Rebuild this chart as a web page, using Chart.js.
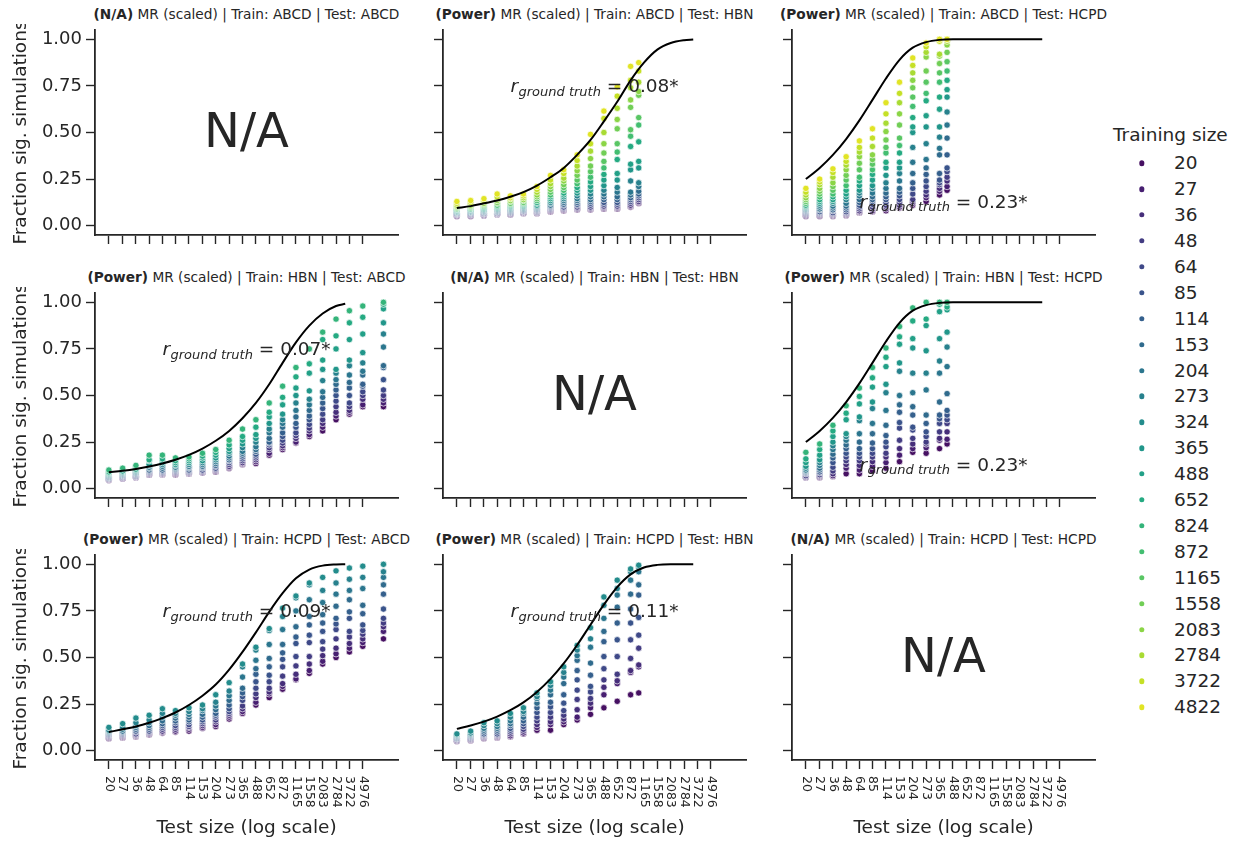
<!DOCTYPE html>
<html><head><meta charset="utf-8">
<script src="https://cdn.jsdelivr.net/npm/chart.js@4.4.1/dist/chart.umd.min.js"></script>
<style>
html,body{margin:0;padding:0;background:#fff}
body{width:1239px;height:843px;overflow:hidden;position:relative;font-family:"DejaVu Sans",sans-serif;color:#262626}
canvas{position:absolute}
.ttl{position:absolute;font-size:13.7px;white-space:nowrap;transform:translate(-50%,-50%);color:#262626;line-height:1}
.lg{position:absolute;font-size:18.5px;white-space:nowrap;transform:translateY(-50%);line-height:1}
.dot{position:absolute;width:5.4px;height:5.4px;border-radius:50%;transform:translate(-50%,-50%)}
</style></head>
<body>
<script>
// ---------------- data ----------------
const tickValues = [20,27,36,48,64,85,114,153,204,273,365,488,652,872,1165,1558,2083,2784,3722,4976];
const yTickValues = [0, 0.25, 0.5, 0.75, 1];
const legendSizes = [20,27,36,48,64,85,114,153,204,273,324,365,488,652,824,872,1165,1558,2083,2784,3722,4822];
const trainABCD = [20,27,36,48,64,85,114,153,204,273,365,488,652,872,1165,1558,2083,2784,3722,4822];
const trainHBN = [20,27,36,48,64,85,114,153,204,273,365,488,652,824];
const trainHCPD = [20,27,36,48,64,85,114,153,204,273,324];
const testABCD = [20,27,36,48,64,85,114,153,204,273,365,488,652,872,1165,1558,2083,2784,3722,4976,7800];
const testHBN = [20,27,36,48,64,85,114,153,204,273,365,488,652,872,1040];
const testHCPD = [20,27,36,48,64,85,114,153,204,273,365,430];

// power curves (x = test size, y = fraction)
const curveX = [20,27,36,48,64,85,114,153,204,273,365,488,652,872,1165,1558,2083,2784,3400];
const curveAbcdHbn  = [0.095,0.105,0.12,0.135,0.155,0.18,0.215,0.26,0.31,0.38,0.46,0.56,0.665,0.78,0.875,0.945,0.98,0.995,0.999];
const curveAbcdHcpd = [0.25,0.31,0.38,0.465,0.565,0.675,0.79,0.89,0.955,0.985,0.997,1,1,1,1,1,1,1,1];
const curveHbnAbcd  = [0.088,0.096,0.106,0.119,0.135,0.155,0.181,0.215,0.257,0.31,0.378,0.46,0.56,0.675,0.785,0.875,0.94,0.98,0.992];
const curveHbnHcpd  = [0.25,0.31,0.38,0.465,0.565,0.675,0.79,0.89,0.955,0.985,0.997,1,1,1,1,1,1,1,1];
const curveHcpdAbcd = [0.10,0.115,0.13,0.15,0.175,0.205,0.245,0.295,0.355,0.435,0.53,0.635,0.745,0.845,0.925,0.972,0.993,0.999,1];
const curveHcpdHbn  = [0.117,0.135,0.156,0.183,0.217,0.259,0.315,0.385,0.468,0.567,0.676,0.784,0.878,0.946,0.983,0.997,1,1,1];

// fraction significant: one row per test size, one value per training size (ascending)
const abcdToHbn = [
 [0.05,0.055,0.06,0.06,0.065,0.065,0.07,0.07,0.075,0.075,0.08,0.085,0.09,0.09,0.095,0.10,0.105,0.11,0.12,0.13],
 [0.05,0.055,0.06,0.06,0.065,0.07,0.07,0.075,0.075,0.08,0.085,0.09,0.09,0.095,0.10,0.105,0.11,0.12,0.125,0.135],
 [0.055,0.055,0.06,0.065,0.065,0.07,0.075,0.075,0.08,0.085,0.09,0.095,0.10,0.105,0.11,0.115,0.12,0.13,0.135,0.145],
 [0.06,0.06,0.065,0.065,0.07,0.075,0.075,0.08,0.085,0.09,0.095,0.10,0.105,0.11,0.12,0.125,0.135,0.145,0.155,0.17],
 [0.06,0.06,0.065,0.07,0.07,0.075,0.08,0.085,0.09,0.095,0.10,0.105,0.11,0.115,0.12,0.13,0.135,0.145,0.15,0.16],
 [0.065,0.07,0.07,0.075,0.08,0.08,0.085,0.09,0.095,0.10,0.105,0.11,0.115,0.12,0.125,0.135,0.14,0.15,0.16,0.17],
 [0.065,0.07,0.07,0.075,0.08,0.085,0.09,0.095,0.10,0.105,0.11,0.12,0.125,0.135,0.145,0.155,0.165,0.18,0.195,0.21],
 [0.075,0.08,0.085,0.09,0.095,0.10,0.105,0.11,0.12,0.125,0.135,0.145,0.155,0.165,0.18,0.195,0.21,0.225,0.245,0.27],
 [0.08,0.085,0.09,0.095,0.10,0.11,0.115,0.125,0.135,0.145,0.155,0.165,0.175,0.19,0.205,0.22,0.24,0.255,0.28,0.30],
 [0.085,0.09,0.095,0.10,0.11,0.115,0.125,0.135,0.145,0.16,0.175,0.19,0.205,0.225,0.245,0.27,0.295,0.32,0.35,0.38],
 [0.085,0.09,0.095,0.10,0.11,0.12,0.13,0.14,0.155,0.17,0.19,0.21,0.235,0.26,0.29,0.32,0.36,0.40,0.44,0.49],
 [0.09,0.095,0.10,0.105,0.115,0.125,0.14,0.155,0.17,0.19,0.215,0.245,0.275,0.31,0.345,0.39,0.44,0.50,0.575,0.615],
 [0.09,0.095,0.10,0.105,0.115,0.125,0.14,0.155,0.18,0.205,0.245,0.28,0.355,0.395,0.44,0.52,0.57,0.63,0.695,0.745],
 [0.10,0.105,0.11,0.12,0.13,0.14,0.15,0.165,0.18,0.24,0.30,0.33,0.425,0.48,0.515,0.635,0.675,0.74,0.78,0.855],
 [0.12,0.125,0.13,0.14,0.15,0.16,0.17,0.185,0.21,0.23,0.31,0.345,0.45,0.54,0.58,0.70,0.72,0.77,0.83,0.875]
];
const abcdToHcpd = [
 [0.05,0.055,0.06,0.065,0.07,0.075,0.08,0.085,0.09,0.095,0.10,0.105,0.11,0.12,0.13,0.14,0.15,0.165,0.18,0.20],
 [0.05,0.055,0.06,0.065,0.07,0.075,0.085,0.09,0.10,0.11,0.12,0.13,0.14,0.155,0.17,0.185,0.20,0.22,0.235,0.25],
 [0.05,0.055,0.06,0.065,0.07,0.08,0.085,0.095,0.105,0.12,0.13,0.14,0.155,0.17,0.19,0.21,0.23,0.26,0.285,0.305],
 [0.055,0.06,0.065,0.07,0.075,0.085,0.095,0.105,0.12,0.14,0.155,0.17,0.19,0.215,0.245,0.27,0.30,0.325,0.345,0.37],
 [0.07,0.075,0.08,0.09,0.10,0.11,0.125,0.14,0.16,0.175,0.19,0.215,0.24,0.26,0.30,0.335,0.37,0.395,0.42,0.455],
 [0.075,0.08,0.09,0.10,0.115,0.13,0.14,0.155,0.175,0.20,0.215,0.245,0.275,0.30,0.33,0.355,0.38,0.425,0.47,0.52],
 [0.08,0.09,0.10,0.11,0.125,0.14,0.155,0.175,0.20,0.23,0.27,0.31,0.34,0.39,0.42,0.46,0.505,0.55,0.60,0.66],
 [0.095,0.10,0.11,0.125,0.14,0.16,0.18,0.20,0.24,0.28,0.31,0.34,0.39,0.43,0.47,0.54,0.60,0.66,0.71,0.77],
 [0.11,0.12,0.13,0.14,0.17,0.20,0.23,0.28,0.34,0.42,0.50,0.53,0.58,0.64,0.69,0.74,0.78,0.82,0.86,0.90],
 [0.13,0.15,0.165,0.185,0.21,0.24,0.275,0.31,0.355,0.44,0.53,0.59,0.67,0.71,0.77,0.83,0.905,0.93,0.96,0.98],
 [0.165,0.185,0.20,0.22,0.23,0.245,0.28,0.38,0.415,0.475,0.53,0.625,0.69,0.77,0.82,0.87,0.91,0.92,0.99,1.0],
 [0.19,0.21,0.24,0.26,0.29,0.31,0.38,0.47,0.54,0.61,0.69,0.73,0.78,0.83,0.88,0.93,0.97,0.99,1.0,1.0]
];
const hbnToAbcd = [
 [0.045,0.05,0.05,0.055,0.055,0.06,0.06,0.065,0.07,0.075,0.08,0.085,0.09,0.10],
 [0.055,0.055,0.06,0.06,0.065,0.07,0.07,0.075,0.08,0.085,0.09,0.095,0.105,0.11],
 [0.06,0.06,0.065,0.065,0.07,0.075,0.08,0.085,0.09,0.095,0.10,0.105,0.115,0.125],
 [0.075,0.075,0.08,0.085,0.09,0.095,0.10,0.11,0.115,0.125,0.13,0.15,0.155,0.18],
 [0.075,0.08,0.08,0.085,0.09,0.095,0.10,0.11,0.12,0.13,0.14,0.15,0.16,0.18],
 [0.075,0.08,0.085,0.09,0.095,0.10,0.105,0.11,0.115,0.125,0.13,0.14,0.15,0.165],
 [0.08,0.08,0.085,0.09,0.095,0.10,0.11,0.115,0.12,0.13,0.14,0.15,0.16,0.17],
 [0.085,0.085,0.09,0.095,0.10,0.11,0.115,0.12,0.13,0.14,0.15,0.165,0.175,0.19],
 [0.09,0.095,0.10,0.105,0.11,0.12,0.125,0.135,0.145,0.155,0.165,0.18,0.195,0.21],
 [0.11,0.115,0.12,0.13,0.14,0.15,0.155,0.165,0.175,0.19,0.20,0.215,0.235,0.26],
 [0.13,0.135,0.14,0.15,0.16,0.17,0.18,0.19,0.20,0.22,0.24,0.26,0.28,0.32],
 [0.135,0.145,0.155,0.165,0.175,0.185,0.20,0.21,0.225,0.25,0.27,0.29,0.33,0.37],
 [0.18,0.19,0.21,0.22,0.235,0.245,0.25,0.27,0.30,0.32,0.35,0.385,0.41,0.46],
 [0.21,0.22,0.23,0.245,0.26,0.28,0.30,0.33,0.35,0.37,0.40,0.45,0.49,0.55],
 [0.245,0.25,0.27,0.285,0.30,0.33,0.35,0.385,0.42,0.46,0.50,0.54,0.60,0.65],
 [0.28,0.29,0.31,0.325,0.345,0.37,0.39,0.42,0.45,0.48,0.525,0.62,0.67,0.75],
 [0.31,0.33,0.35,0.37,0.40,0.43,0.46,0.49,0.52,0.58,0.64,0.69,0.80,0.84],
 [0.37,0.39,0.41,0.44,0.47,0.50,0.53,0.56,0.585,0.62,0.64,0.75,0.82,0.91],
 [0.40,0.41,0.42,0.44,0.46,0.50,0.54,0.57,0.61,0.66,0.69,0.80,0.89,0.955],
 [0.44,0.45,0.48,0.50,0.52,0.55,0.56,0.61,0.63,0.675,0.73,0.83,0.92,0.98],
 [0.44,0.46,0.48,0.50,0.53,0.585,0.65,0.66,0.76,0.83,0.89,0.965,0.99,1.0]
];
const hbnToHcpd = [
 [0.06,0.06,0.065,0.07,0.08,0.085,0.09,0.095,0.10,0.11,0.12,0.14,0.16,0.195],
 [0.06,0.065,0.07,0.075,0.085,0.09,0.10,0.11,0.125,0.14,0.155,0.18,0.21,0.24],
 [0.065,0.07,0.08,0.095,0.115,0.14,0.165,0.185,0.21,0.23,0.25,0.28,0.31,0.34],
 [0.08,0.11,0.13,0.15,0.17,0.19,0.215,0.235,0.26,0.28,0.295,0.37,0.405,0.445],
 [0.08,0.10,0.125,0.15,0.17,0.19,0.215,0.25,0.295,0.365,0.385,0.455,0.495,0.54],
 [0.095,0.12,0.145,0.17,0.19,0.215,0.245,0.295,0.35,0.43,0.465,0.545,0.595,0.65],
 [0.11,0.14,0.17,0.19,0.225,0.25,0.285,0.34,0.42,0.515,0.56,0.655,0.705,0.755],
 [0.145,0.18,0.215,0.26,0.325,0.355,0.41,0.45,0.50,0.63,0.675,0.775,0.815,0.87],
 [0.195,0.215,0.24,0.27,0.315,0.33,0.395,0.44,0.515,0.62,0.755,0.805,0.90,0.97],
 [0.19,0.22,0.24,0.25,0.28,0.305,0.35,0.395,0.53,0.62,0.74,0.875,0.91,1.0],
 [0.215,0.26,0.27,0.305,0.35,0.375,0.395,0.465,0.62,0.685,0.805,0.95,0.99,1.0],
 [0.24,0.265,0.305,0.35,0.37,0.395,0.42,0.51,0.655,0.76,0.84,0.96,0.975,1.0]
];
const hcpdToAbcd = [
 [0.065,0.07,0.075,0.08,0.085,0.09,0.095,0.10,0.105,0.11,0.125],
 [0.07,0.075,0.08,0.085,0.09,0.095,0.10,0.105,0.115,0.125,0.145],
 [0.075,0.08,0.085,0.09,0.10,0.105,0.115,0.125,0.135,0.15,0.175],
 [0.085,0.09,0.095,0.10,0.105,0.115,0.125,0.135,0.15,0.165,0.19],
 [0.095,0.10,0.105,0.115,0.125,0.135,0.145,0.16,0.18,0.20,0.225],
 [0.10,0.105,0.115,0.125,0.135,0.15,0.16,0.175,0.19,0.20,0.215],
 [0.105,0.115,0.125,0.13,0.14,0.155,0.165,0.18,0.195,0.21,0.23],
 [0.12,0.125,0.135,0.145,0.155,0.165,0.18,0.195,0.215,0.225,0.245],
 [0.13,0.14,0.155,0.165,0.18,0.19,0.20,0.22,0.24,0.26,0.30],
 [0.17,0.18,0.19,0.20,0.21,0.225,0.245,0.27,0.295,0.32,0.365],
 [0.20,0.21,0.225,0.24,0.27,0.29,0.31,0.335,0.395,0.45,0.465],
 [0.245,0.26,0.285,0.305,0.335,0.37,0.41,0.44,0.485,0.54,0.555],
 [0.285,0.305,0.315,0.335,0.37,0.405,0.45,0.495,0.57,0.645,0.655],
 [0.33,0.345,0.36,0.40,0.45,0.49,0.525,0.57,0.65,0.72,0.765],
 [0.38,0.385,0.41,0.455,0.505,0.575,0.61,0.665,0.75,0.82,0.83],
 [0.415,0.43,0.465,0.505,0.58,0.62,0.675,0.72,0.81,0.89,0.90],
 [0.465,0.48,0.51,0.545,0.585,0.64,0.685,0.73,0.795,0.86,0.93],
 [0.50,0.52,0.55,0.60,0.65,0.68,0.71,0.775,0.84,0.90,0.965],
 [0.53,0.55,0.575,0.61,0.64,0.71,0.745,0.81,0.86,0.92,0.98],
 [0.56,0.58,0.60,0.625,0.645,0.675,0.735,0.78,0.87,0.93,0.99],
 [0.60,0.64,0.665,0.685,0.71,0.76,0.84,0.89,0.93,0.96,1.0]
];
const hcpdToHbn = [
 [0.05,0.055,0.055,0.06,0.065,0.065,0.07,0.075,0.08,0.085,0.09],
 [0.055,0.06,0.06,0.065,0.07,0.075,0.08,0.085,0.09,0.095,0.105],
 [0.065,0.07,0.075,0.08,0.085,0.09,0.10,0.11,0.12,0.135,0.15],
 [0.07,0.075,0.08,0.085,0.09,0.10,0.11,0.12,0.13,0.145,0.16],
 [0.075,0.08,0.09,0.10,0.11,0.12,0.135,0.145,0.16,0.18,0.20],
 [0.09,0.095,0.105,0.115,0.13,0.145,0.16,0.18,0.20,0.21,0.23],
 [0.11,0.125,0.14,0.16,0.18,0.205,0.23,0.255,0.28,0.29,0.31],
 [0.11,0.14,0.155,0.18,0.205,0.235,0.26,0.30,0.325,0.35,0.37],
 [0.14,0.155,0.17,0.19,0.215,0.255,0.30,0.36,0.395,0.42,0.45],
 [0.165,0.18,0.22,0.275,0.325,0.38,0.43,0.485,0.51,0.54,0.565],
 [0.195,0.23,0.255,0.28,0.315,0.345,0.405,0.47,0.555,0.60,0.66],
 [0.23,0.30,0.34,0.38,0.44,0.505,0.585,0.64,0.71,0.78,0.825],
 [0.265,0.36,0.375,0.41,0.505,0.595,0.685,0.77,0.835,0.87,0.915],
 [0.30,0.42,0.43,0.495,0.595,0.685,0.76,0.84,0.915,0.96,0.975],
 [0.31,0.45,0.46,0.55,0.62,0.715,0.835,0.89,0.96,0.985,0.995]
];

const panels = [
 {row:0,col:0,tag:'(N/A)',train:'ABCD',test:'ABCD',na:true},
 {row:0,col:1,tag:'(Power)',train:'ABCD',test:'HBN',trainSizes:trainABCD,testSizes:testHBN,table:abcdToHbn,curve:curveAbcdHbn,r:'0.08*',rPos:0.304},
 {row:0,col:2,tag:'(Power)',train:'ABCD',test:'HCPD',trainSizes:trainABCD,testSizes:testHCPD,table:abcdToHcpd,curve:curveAbcdHcpd,r:'0.23*',rPos:0.866},
 {row:1,col:0,tag:'(Power)',train:'HBN',test:'ABCD',trainSizes:trainHBN,testSizes:testABCD,table:hbnToAbcd,curve:curveHbnAbcd,r:'0.07*',rPos:0.304},
 {row:1,col:1,tag:'(N/A)',train:'HBN',test:'HBN',na:true},
 {row:1,col:2,tag:'(Power)',train:'HBN',test:'HCPD',trainSizes:trainHBN,testSizes:testHCPD,table:hbnToHcpd,curve:curveHbnHcpd,r:'0.23*',rPos:0.866},
 {row:2,col:0,tag:'(Power)',train:'HCPD',test:'ABCD',trainSizes:trainHCPD,testSizes:testABCD,table:hcpdToAbcd,curve:curveHcpdAbcd,r:'0.09*',rPos:0.304},
 {row:2,col:1,tag:'(Power)',train:'HCPD',test:'HBN',trainSizes:trainHCPD,testSizes:testHBN,table:hcpdToHbn,curve:curveHcpdHbn,r:'0.11*',rPos:0.304},
 {row:2,col:2,tag:'(N/A)',train:'HCPD',test:'HCPD',na:true}
];

// ---------------- style / layout ----------------
const FONT = '"DejaVu Sans", sans-serif';
const INK = '#262626';
const colLeft = [95, 443, 792];
const rowTop = [30, 293, 555];
const BOX_W = 303, BOX_H = 205;
Chart.defaults.font.family = FONT;
Chart.defaults.color = INK;

const viridisStops = ['#440154','#482475','#414487','#355f8d','#2a788e','#21918c','#22a884','#44bf70','#7ad151','#bddf26','#fde725'];
function hexRgb(h){return [parseInt(h.slice(1,3),16),parseInt(h.slice(3,5),16),parseInt(h.slice(5,7),16)];}
function viridis(t){
  const s = t*10, i = Math.min(9, Math.floor(s)), f = s - i;
  const a = hexRgb(viridisStops[i]), b = hexRgb(viridisStops[i+1]);
  return 'rgb(' + a.map((v,k)=>Math.round(v+(b[k]-v)*f)).join(',') + ')';
}
function sizeColor(size){
  const i = legendSizes.indexOf(size);
  return viridis((i+1)/(legendSizes.length+1));
}

function drawRText(ctx, cx, baseY, val){
  const it = 'italic 18.5px ' + FONT, sub = 'italic 13px ' + FONT, main = '18.5px ' + FONT;
  ctx.save();
  ctx.fillStyle = INK; ctx.textAlign = 'left'; ctx.textBaseline = 'alphabetic';
  ctx.font = it; const w1 = ctx.measureText('r').width + 0.5;
  ctx.font = sub; const w2 = ctx.measureText('ground truth').width;
  const tail = ' = ' + val;
  ctx.font = main; const w3 = ctx.measureText(tail).width;
  let x = cx - (w1 + w2 + w3) / 2;
  ctx.font = it; ctx.fillText('r', x, baseY); x += w1;
  ctx.font = sub; ctx.fillText('ground truth', x, baseY + 3.5); x += w2;
  ctx.font = main; ctx.fillText(tail, x, baseY);
  ctx.restore();
}

function makePanel(p){
  const Lw = p.col === 0 ? 95 : 20, Rw = 6, Tp = 6;
  const Bh = p.row === 2 ? 80 : 12;
  const W = Lw + BOX_W + Rw, H = Tp + BOX_H + Bh;
  const cv = document.createElement('canvas');
  cv.width = W; cv.height = H;
  cv.style.width = W + 'px'; cv.style.height = H + 'px';
  cv.style.left = (colLeft[p.col] - Lw) + 'px';
  cv.style.top = (rowTop[p.row] - Tp) + 'px';
  document.body.appendChild(cv);

  // title (HTML text)
  const t = document.createElement('div');
  t.className = 'ttl';
  t.innerHTML = '<b>' + p.tag + '</b> MR (scaled) | Train: ' + p.train + ' | Test: ' + p.test;
  t.style.left = (colLeft[p.col] + BOX_W/2) + 'px';
  t.style.top = (rowTop[p.row] - 15.5) + 'px';
  document.body.appendChild(t);

  const datasets = [];
  if (!p.na) {
    datasets.push({
      type: 'line',
      data: curveX.map((x,i)=>({x:x, y:p.curve[i]})),
      borderColor: '#000', borderWidth: 2, pointRadius: 0, fill: false,
      cubicInterpolationMode: 'monotone', order: -1
    });
    p.trainSizes.forEach((ts, j) => {
      datasets.push({
        type: 'scatter',
        data: p.testSizes.map((x,k)=>({x:x, y:p.table[k][j]})),
        backgroundColor: sizeColor(ts), borderColor: '#ffffff', borderWidth: 0.7,
        pointRadius: 3.2, pointHoverRadius: 3.2,
        order: p.trainSizes.length - j
      });
    });
  }

  const gridOpts = {display:true, drawOnChartArea:false, drawTicks:true, tickLength:9, tickWidth:1.4, tickColor:INK};
  const borderOpts = {display:true, color:INK, width:1.8};

  const annot = {
    id: 'annot',
    afterDraw(chart){
      const ctx = chart.ctx, a = chart.chartArea;
      if (p.na) {
        ctx.save(); ctx.fillStyle = INK; ctx.font = '48px ' + FONT;
        ctx.textAlign = 'center'; ctx.textBaseline = 'alphabetic';
        ctx.fillText('N/A', (a.left + a.right)/2, (a.top + a.bottom)/2 + 14);
        ctx.restore();
      } else {
        drawRText(ctx, (a.left + a.right)/2, a.top + p.rPos * (a.bottom - a.top), p.r);
      }
      if (p.row === 2) {
        const xs = chart.scales.x;
        ctx.save(); ctx.fillStyle = INK; ctx.font = '12.5px ' + FONT;
        ctx.textAlign = 'left'; ctx.textBaseline = 'middle';
        tickValues.forEach(v => {
          ctx.save();
          ctx.translate(xs.getPixelForValue(v), a.bottom + 16);
          ctx.rotate(Math.PI/2);
          ctx.fillText(String(v), 0, 0);
          ctx.restore();
        });
        ctx.restore();
      }
    }
  };

  new Chart(cv, {
    type: 'scatter',
    data: {datasets},
    options: {
      responsive: false, animation: false, devicePixelRatio: 1,
      layout: {padding: {left:0, right:Rw, top:Tp, bottom:0}},
      plugins: {legend:{display:false}, tooltip:{enabled:false}},
      events: [],
      scales: {
        x: {
          type: 'logarithmic', min: 14.8, max: 10700,
          afterBuildTicks: ax => { ax.ticks = tickValues.map(v => ({value:v})); },
          afterFit: s => { s.height = Bh; s.paddingLeft = 0; s.paddingRight = 0; },
          grid: gridOpts, border: borderOpts,
          ticks: {display:false},
          title: {display: p.row === 2, text: 'Test size (log scale)', color: INK,
                  font: {size:18.5, family: FONT}, padding: {top:0, bottom:1}}
        },
        y: {
          type: 'linear', min: -0.05, max: 1.05,
          afterBuildTicks: ax => { ax.ticks = yTickValues.map(v => ({value:v})); },
          afterFit: s => { s.width = Lw; s.paddingTop = 0; s.paddingBottom = 0; },
          grid: gridOpts, border: borderOpts,
          ticks: {display: p.col === 0, color: INK, font: {size:18, family: FONT}, padding: 4,
                  callback: v => Number(v).toFixed(2)},
          title: {display: p.col === 0, text: 'Fraction sig. simulations', color: INK,
                  font: {size:18.5, family: FONT}, padding: {top:10, bottom:0}}
        }
      }
    },
    plugins: [annot]
  });
}

panels.forEach(makePanel);

// legend (HTML)
(function(){
  const title = document.createElement('div');
  title.className = 'lg'; title.textContent = 'Training size';
  title.style.left = '1113px'; title.style.top = '135px';
  document.body.appendChild(title);
  legendSizes.forEach((s, i) => {
    const y = 163.3 + 25.9 * i;
    const d = document.createElement('div');
    d.className = 'dot'; d.style.background = sizeColor(s);
    d.style.left = '1141.7px'; d.style.top = y + 'px';
    document.body.appendChild(d);
    const l = document.createElement('div');
    l.className = 'lg'; l.textContent = String(s);
    l.style.left = '1174px'; l.style.top = y + 'px';
    document.body.appendChild(l);
  });
})();
</script>
</body></html>
